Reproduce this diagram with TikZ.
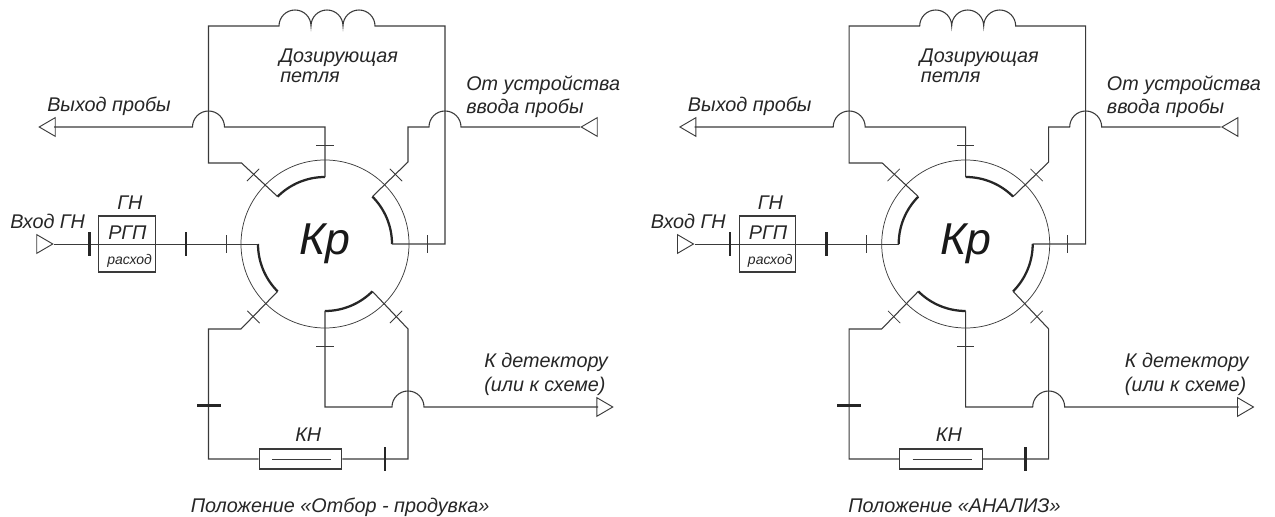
\documentclass[tikz,border=0pt]{standalone}
\usepackage{fontspec}
\setmainfont{Liberation Sans}
\usetikzlibrary{shapes.geometric}

\definecolor{wirecol}{HTML}{3A3A3A}
\definecolor{labelcol}{HTML}{262626}

\tikzset{
	wire/.style={draw=wirecol, line width=0.8pt, line join=miter},
	thinwire/.style={draw=wirecol, line width=0.55pt},
	valvearc/.style={draw=black!85, line width=1.7pt, line cap=butt},
	thintick/.style={fill=wirecol, inner sep=0pt, minimum width=13pt, minimum height=0.55pt},
	thicktick/.style={fill=black!85, inner sep=0pt, minimum width=18pt, minimum height=1.9pt},
	label/.style={text=labelcol, inner sep=0pt, anchor=base west, font=\fontsize{14.85}{17}\selectfont\itshape},
	smalllabel/.style={label, font=\fontsize{10.5}{12}\selectfont\itshape},
	portmark/.style={draw=wirecol, line width=0.7pt, isosceles triangle, isosceles triangle stretches, inner sep=0pt, minimum width=14pt, minimum height=12pt},
	valvebody/.style={circle, thinwire, inner sep=0pt, minimum size=126pt, text=black!90, font=\fontsize{33.5}{36}\selectfont\itshape},
	box/.style={wire, inner sep=0pt}
}

% one scheme: #1 shift, #2 thick arcs in the valve, #3 caption x, #4 caption
\newcommand{\gasscheme}[4]{
	\begin{scope}[shift={(#1,0)}]
		\node[valvebody] (kr) at (325,273) {Кр};
		\begin{scope}[shift={(325,273)}]
			\foreach \a in {0,45,...,315}
				\coordinate (p\a) at (\a:67);
		\end{scope}
		\foreach \s/\e in {#2}
			\draw[valvearc] (\s:67) ++(325,273) arc (\s:\e:67);

		% ports
		\node[portmark, shape border rotate=180, anchor=apex] (outprobe) at (38,390) {};
		\node[portmark, shape border rotate=180, anchor=apex] (inprobe) at (580,390) {};
		\node[portmark, anchor=apex] (incarrier) at (54,273) {};
		\node[portmark, anchor=apex] (todetector) at (614,110) {};
		\coordinate (outprobeend) at (54,390);
		\coordinate (inprobeend) at (580,390);
		\coordinate (incarrierend) at (54,273);
		\coordinate (todetectorend) at (598,110);

		% boxes
		\node[box, minimum width=42.5pt, minimum height=42pt] (gn) at (126.7,273) {};
		\node[box, minimum width=62pt, minimum height=15pt] (kn) at (300.5,58) {};
		\coordinate (knl) at (272,58);
		\coordinate (knr) at (331,58);
		\draw[thinwire] (knl) -- (knr);

		% wires
		\draw[wire] (p135) -- (241.5,354) -- (208.5,354) -- (208.5,491) -- (279,491)
			arc (180:0:16) arc (180:0:16) arc (180:0:16) -- (445,491) -- (445,273) -- (p0);
		\draw[wire] (p90) -- (325,390) -- (224.5,390) arc (0:180:16) -- (outprobeend);
		\draw[wire] (p45) -- (408,355) -- (408,390) -- (429,390) arc (180:0:16) -- (inprobeend);
		\draw[thinwire] (incarrierend) -- (p180);
		\draw[wire] (p225) -- (241,188) -- (208.5,188) -- (208.5,58) -- (kn.west);
		\draw[wire] (kn.east) -- (408,58) -- (408,188) -- (p315);
		\draw[wire] (p270) -- (325,110) -- (392,110) arc (180:0:16) -- (todetectorend);

		% thin marks
		\foreach \i/\x/\y/\r in {a/226/273/90, b/253/342/45, c/325/372/0, d/396/342/135, e/427/273/90, f/396/200/45, g/325/170.5/0, h/253.5/200/135}
			\node[thintick, rotate=\r] (mark\i) at (\x,\y) {};
		% thick marks
		\foreach \i/\x/\y/\r in {a/89.5/273/90, b/186/273/90, c/208.5/111.5/0, d/385/58/90}
			\node[thicktick, rotate=\r] (bar\i) at (\x,\y) {};

		% texts
		\node[label] (loopa) at (279,454) {Дозирующая};
		\node[label] (loopb) at (280,434) {петля};
		\node[label] (lbloutprobe) at (47,405.5) {Выход пробы};
		\node[label] (lblinprobea) at (466,426) {От устройства};
		\node[label] (lblinprobeb) at (466,403) {ввода пробы};
		\node[label] (lblgn) at (117,307) {ГН};
		\node[label] (lblin) at (10,288.5) {Вход ГН};
		\node[label] (lblrgp) at (108,277) {РГП};
		\node[smalllabel] (lblflow) at (107,252) {расход};
		\node[label] (lblkn) at (295,75.5) {КН};
		\node[label] (lbldeta) at (484,149) {К детектору};
		\node[label] (lbldetb) at (484,125) {(или к схеме)};
		\node[label] (caption) at (#3,4) {#4};
	\end{scope}
}

\begin{document}
\begin{tikzpicture}[x=0.75pt, y=0.75pt]
	\useasboundingbox (0,0) rectangle (1275,517);
	\gasscheme{0}{135/90, 45/0, 180/225, 270/315}{190.5}{Положение «Отбор - продувка»}
	\gasscheme{640.7}{90/45, 135/180, 0/-45, 270/225}{207.3}{Положение «АНАЛИЗ»}
\end{tikzpicture}
\end{document}
